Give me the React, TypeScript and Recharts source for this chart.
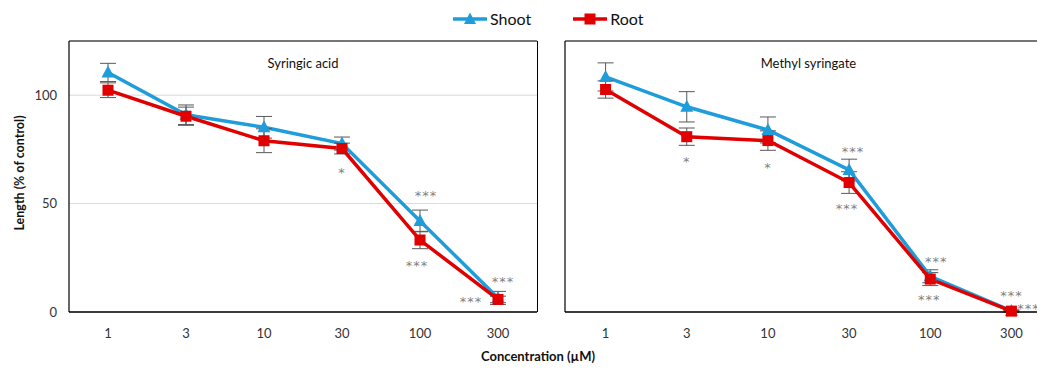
import { LineChart, Line, XAxis, YAxis, CartesianGrid, ErrorBar, LabelList, ReferenceLine } from "recharts";

const CONCENTRATIONS = ["1", "3", "10", "30", "100", "300"];
const Y_TICKS = [0, 50, 100];

// Syringic acid
const SA_SHOOT = [110.5, 91, 85.2, 77.7, 42, 6.5];
const SA_SHOOT_ERR = [4.2, 4.5, 5, 3, 5, 3];
const SA_ROOT = [102.3, 90.3, 79, 75.4, 33.2, 5.8];
const SA_ROOT_ERR = [3.4, 4.2, 5.5, 2.5, 4, 1.5];
const SA_SHOOT_SIG = ["", "", "", "", "***", "***"];
const SA_ROOT_SIG = ["", "", "", "*", "***", "***"];

// Methyl syringate
const MS_SHOOT = [108.4, 94.6, 83.9, 65.4, 16.3, 0.3];
const MS_SHOOT_ERR = [6.5, 7, 6, 5, 3, 0.5];
const MS_ROOT = [102.6, 80.8, 79, 59.6, 15, 0.2];
const MS_ROOT_ERR = [4, 4, 4.5, 5, 3, 0.3];
const MS_SHOOT_SIG = ["", "", "", "***", "***", "***"];
const MS_ROOT_SIG = ["", "*", "*", "***", "***", "***"];

const BLUE = "#1f9ddb";
const RED = "#e00000";
const FONT = "Lato, 'Open Sans', sans-serif";

const buildRows = (shoot: number[], shootErr: number[], root: number[], rootErr: number[], shootSig: string[], rootSig: string[]) =>
  CONCENTRATIONS.map((c, i) => ({
    conc: c,
    shoot: shoot[i],
    shootErr: shootErr[i],
    root: root[i],
    rootErr: rootErr[i],
    shootSig: shootSig[i],
    rootSig: rootSig[i],
  }));

const Triangle = (props: any) => {
  const { cx, cy } = props;
  if (cx == null || cy == null) return null;
  return <polygon points={`${cx},${cy - 7} ${cx - 6.5},${cy + 5} ${cx + 6.5},${cy + 5}`} fill={BLUE} />;
};

const Square = (props: any) => {
  const { cx, cy } = props;
  if (cx == null || cy == null) return null;
  return <rect x={cx - 5.5} y={cy - 5.5} width={11} height={11} fill={RED} />;
};

// asterisks sit high in the em box, so push them down a bit to centre them visually
const sigLabel = (baseDy: number, overrides: Record<number, [number, number]>) => (props: any) => {
  const { x, y, value, index } = props;
  if (!value) return null;
  const [dx, dy] = overrides[index] || [0, baseDy];
  return (
    <text
      x={x + dx}
      y={y + dy + 4}
      textAnchor="middle"
      dominantBaseline="central"
      fill="#7f7f7f"
      fontSize={13}
      letterSpacing={1}
      fontFamily="'DejaVu Sans', sans-serif"
    >
      {value}
    </text>
  );
};

interface PanelProps {
  title: string;
  rows: any[];
  left: number;
  yAxisWidth: number;
  plotWidth: number;
  showYTicks: boolean;
  rightBorder: boolean;
  shootOverrides: Record<number, [number, number]>;
  rootOverrides: Record<number, [number, number]>;
}

function Panel({ title, rows, left, yAxisWidth, plotWidth, showYTicks, rightBorder, shootOverrides, rootOverrides }: PanelProps) {
  const width = yAxisWidth + plotWidth + 1;
  const pad = plotWidth / CONCENTRATIONS.length / 2;
  return (
    <div style={{ position: "absolute", left, top: 0 }}>
      <LineChart width={width} height={372} data={rows} margin={{ top: 41, right: 1, bottom: 30, left: 0 }}>
        <CartesianGrid vertical={false} stroke="#d9d9d9" />
        <ReferenceLine y={125} stroke="#000" strokeWidth={1} />
        <XAxis
          dataKey="conc"
          padding={{ left: pad, right: pad }}
          tickLine={false}
          tickSize={0}
          tickMargin={17}
          height={30}
          axisLine={{ stroke: "#000", strokeWidth: 1.5 }}
          tick={{ fill: "#333", fontSize: 13, fontFamily: FONT }}
        />
        <YAxis
          domain={[0, 125]}
          ticks={Y_TICKS}
          width={yAxisWidth}
          tickLine={false}
          tickSize={0}
          tickMargin={12}
          tick={showYTicks ? { fill: "#333", fontSize: 13, fontFamily: FONT } : false}
          axisLine={{ stroke: "#000", strokeWidth: 1.2 }}
        />
        <text x={yAxisWidth + plotWidth / 2} y={63} textAnchor="middle" dominantBaseline="central" fontSize={13} fontFamily={FONT} fill="#111">
          {title}
        </text>
        <Line dataKey="shoot" name="Shoot" type="linear" stroke={BLUE} strokeWidth={3.5} dot={<Triangle />} activeDot={false} isAnimationActive={false}>
          <ErrorBar dataKey="shootErr" direction="y" width={8} stroke="#595959" strokeWidth={1} />
          <LabelList dataKey="shootSig" content={sigLabel(-22, shootOverrides)} />
        </Line>
        <Line dataKey="root" name="Root" type="linear" stroke={RED} strokeWidth={3.5} dot={<Square />} activeDot={false} isAnimationActive={false}>
          <ErrorBar dataKey="rootErr" direction="y" width={8} stroke="#595959" strokeWidth={1} />
          <LabelList dataKey="rootSig" content={sigLabel(20, rootOverrides)} />
        </Line>
      </LineChart>
      {rightBorder && (
        <div style={{ position: "absolute", left: yAxisWidth + plotWidth, top: 41, width: 1, height: 271, background: "#000" }} />
      )}
    </div>
  );
}

function LegendItem({ label, color, marker }: { label: string; color: string; marker: "triangle" | "square" }) {
  return (
    <div style={{ display: "flex", alignItems: "center", gap: 3 }}>
      <svg width={34} height={16}>
        <line x1={0} y1={8} x2={34} y2={8} stroke={color} strokeWidth={3.5} />
        {marker === "triangle" ? (
          <polygon points="17,1.5 11,13 23,13" fill={color} />
        ) : (
          <rect x={11.5} y={2.5} width={11} height={11} fill={color} />
        )}
      </svg>
      <span style={{ fontSize: 16, color: "#111" }}>{label}</span>
    </div>
  );
}

export default function App() {
  const saRows = buildRows(SA_SHOOT, SA_SHOOT_ERR, SA_ROOT, SA_ROOT_ERR, SA_SHOOT_SIG, SA_ROOT_SIG);
  const msRows = buildRows(MS_SHOOT, MS_SHOOT_ERR, MS_ROOT, MS_ROOT_ERR, MS_SHOOT_SIG, MS_ROOT_SIG);

  return (
    <div style={{ position: "relative", width: 1045, height: 372, margin: -8, overflow: "hidden", background: "#fff", fontFamily: FONT }}>
      <Panel
        title="Syringic acid"
        rows={saRows}
        left={0}
        yAxisWidth={69}
        plotWidth={468}
        showYTicks
        rightBorder
        shootOverrides={{ 4: [6, -29], 5: [5, -20] }}
        rootOverrides={{ 4: [-3, 21], 5: [-27, -2] }}
      />
      <Panel
        title="Methyl syringate"
        rows={msRows}
        left={564}
        yAxisWidth={1}
        plotWidth={487}
        showYTicks={false}
        rightBorder={false}
        shootOverrides={{ 3: [4, -23], 4: [6, -19], 5: [0, -19] }}
        rootOverrides={{ 1: [0, 21], 2: [0, 23], 3: [-2, 22], 4: [-1, 16], 5: [17, -7] }}
      />
      <div style={{ position: "absolute", left: 453, top: 9, display: "flex", gap: 42 }}>
        <LegendItem label="Shoot" color={BLUE} marker="triangle" />
        <LegendItem label="Root" color={RED} marker="square" />
      </div>
      <div
        style={{
          position: "absolute",
          left: 19,
          top: 173,
          transform: "translate(-50%, -50%) rotate(-90deg)",
          whiteSpace: "nowrap",
          fontWeight: 700,
          fontSize: 12.5,
          color: "#111",
        }}
      >
        Length (% of control)
      </div>
      <div
        style={{
          position: "absolute",
          left: 538,
          top: 356,
          transform: "translate(-50%, -50%)",
          whiteSpace: "nowrap",
          fontWeight: 700,
          fontSize: 13,
          color: "#111",
        }}
      >
        Concentration (µM)
      </div>
    </div>
  );
}
